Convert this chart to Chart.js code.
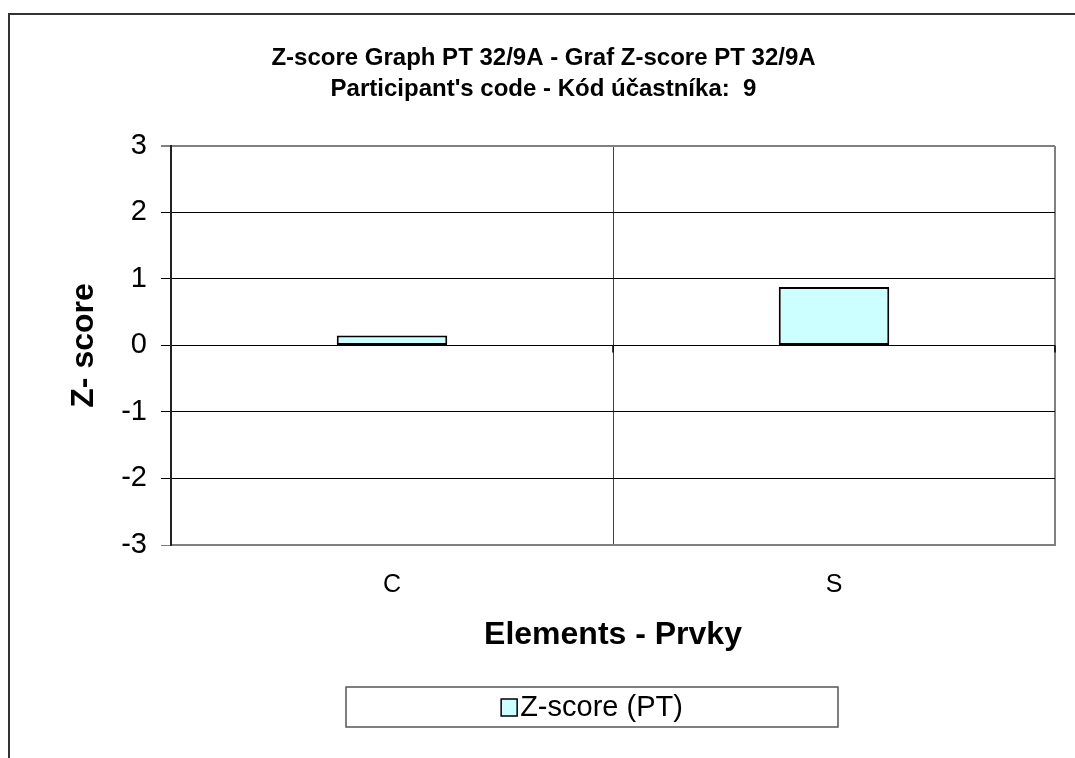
<!DOCTYPE html>
<html>
<head>
<meta charset="utf-8">
<script src="https://cdn.jsdelivr.net/npm/chart.js@4.4.1/dist/chart.umd.min.js"></script>
<style>
  html, body { margin: 0; padding: 0; background: #fff; }
  #wrap { width: 1075px; height: 758px; position: relative; }
</style>
</head>
<body>
<div id="wrap"><canvas id="c" width="1075" height="758"></canvas></div>
<script>
const categories = ["C", "S"];
const zScores = [0.15, 0.88];
const seriesLabel = "Z-score (PT)";
const titleLines = ["Z-score Graph PT 32/9A - Graf Z-score PT 32/9A", "Participant's code - Kód účastníka:  9"];
const xTitle = "Elements - Prvky";
const yTitle = "Z- score";
const yMin = -3, yMax = 3, yStep = 1;

const FONT = "'Liberation Sans', Arial, sans-serif";

const framePlugin = {
  id: 'frame',
  beforeDraw(chart) {
    const ctx = chart.ctx;
    ctx.save();
    ctx.fillStyle = '#fff';
    ctx.fillRect(0, 0, chart.width, chart.height);
    ctx.strokeStyle = '#333';
    ctx.lineWidth = 2;
    ctx.beginPath();
    ctx.moveTo(9, chart.height);
    ctx.lineTo(9, 14);
    ctx.lineTo(chart.width, 14);
    ctx.stroke();
    ctx.restore();
  }
};

const zeroTicksPlugin = {
  id: 'zeroTicks',
  afterDatasetsDraw(chart) {
    const x = chart.scales.x, y = chart.scales.y;
    const y0 = y.getPixelForValue(0);
    const ctx = chart.ctx;
    ctx.save();
    ctx.strokeStyle = '#000';
    ctx.lineWidth = 1.5;
    ctx.beginPath();
    for (let i = 1; i <= categories.length; i++) {
      const xx = i < categories.length
        ? (x.getPixelForValue(i - 1) + x.getPixelForValue(i)) / 2
        : x.right;
      ctx.moveTo(xx, y0);
      ctx.lineTo(xx, y0 + 7);
    }
    ctx.stroke();
    ctx.restore();
  }
};

const legendBoxPlugin = {
  id: 'legendBox',
  afterDraw(chart) {
    const ctx = chart.ctx;
    const ds = chart.data.datasets[0];
    const bx = 346, by = 687, bw = 492, bh = 40;
    ctx.save();
    ctx.strokeStyle = '#555';
    ctx.lineWidth = 1.5;
    ctx.strokeRect(bx, by, bw, bh);
    ctx.font = "29px " + FONT;
    ctx.textBaseline = 'middle';
    const tw = ctx.measureText(ds.label).width;
    const sw = 16, gap = 3;
    const total = sw + gap + tw;
    const sx = bx + (bw - total) / 2;
    const cy = by + bh / 2;
    ctx.fillStyle = ds.backgroundColor;
    ctx.fillRect(sx, cy - 8, sw, 17);
    ctx.strokeStyle = '#000';
    ctx.lineWidth = 1.5;
    ctx.strokeRect(sx, cy - 8, sw, 17);
    ctx.fillStyle = '#000';
    ctx.textAlign = 'left';
    ctx.fillText(ds.label, sx + sw + gap, cy + 1);
    ctx.restore();
  }
};

new Chart(document.getElementById('c'), {
  type: 'bar',
  data: {
    labels: categories,
    datasets: [{
      label: seriesLabel,
      data: zScores,
      backgroundColor: '#CCFFFF',
      borderColor: '#000',
      borderWidth: 2,
      borderSkipped: false,
      barPercentage: 0.25,
      categoryPercentage: 1.0
    }]
  },
  plugins: [framePlugin, zeroTicksPlugin, legendBoxPlugin],
  options: {
    responsive: false,
    animation: false,
    devicePixelRatio: 1,
    layout: { padding: { left: 32, right: 20, top: 14, bottom: 93 } },
    plugins: {
      legend: { display: false },
      tooltip: { enabled: false },
      title: {
        display: true,
        text: titleLines,
        color: '#000',
        font: { family: FONT, size: 24, weight: 'bold', lineHeight: 1.29 },
        padding: { top: 28.5, bottom: 41.5 }
      }
    },
    scales: {
      x: {
        offset: true,
        afterFit(s) { s.height = 120; },
        grid: {
          offset: true,
          drawTicks: false,
          color: (c) => c.index === 1 ? '#404040' : '#808080',
          lineWidth: (c) => c.index === 1 ? 1 : 2
        },
        border: { display: true, color: '#808080', width: 2 },
        ticks: {
          color: '#000',
          font: { family: FONT, size: 25 },
          padding: 25
        },
        title: {
          display: true,
          text: xTitle,
          color: '#000',
          font: { family: FONT, size: 32, weight: 'bold', lineHeight: 1.2 },
          padding: { top: 0, bottom: 11 }
        }
      },
      y: {
        min: yMin,
        max: yMax,
        afterFit(s) { s.width = 139; },
        grid: {
          color: (c) => (c.tick && (c.tick.value === yMax || c.tick.value === yMin)) ? '#808080' : '#000',
          lineWidth: (c) => (c.tick && c.tick.value === yMax) ? 2 : 1,
          tickLength: 10
        },
        border: { display: true, color: '#222', width: 2 },
        ticks: {
          stepSize: yStep,
          color: '#000',
          font: { family: FONT, size: 29 },
          padding: 14
        },
        title: {
          display: true,
          text: yTitle,
          color: '#000',
          font: { family: FONT, size: 32, weight: 'bold', lineHeight: 1.2 },
          padding: { top: 33, bottom: 0 }
        }
      }
    }
  }
});
</script>
</body>
</html>
